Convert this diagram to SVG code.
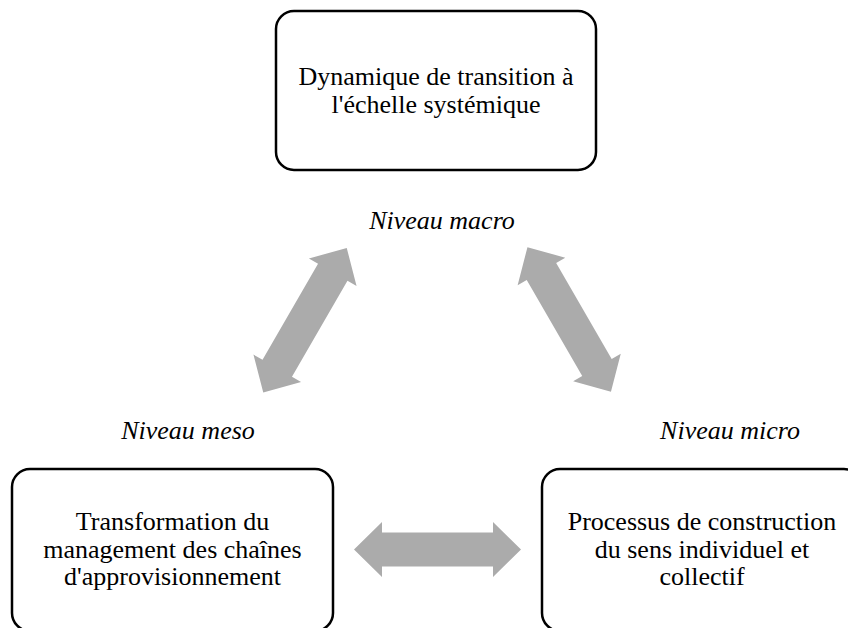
<svg xmlns="http://www.w3.org/2000/svg" width="848" height="628" viewBox="0 0 848 628">
  <style>
    .box { fill: #ffffff; stroke: #000000; stroke-width: 2.5; }
    .t { font-size: 26px; fill: #000000; text-anchor: middle; }
    .lvl { font-size: 26px; font-style: italic; fill: #000000; text-anchor: middle; }
    .arrow { fill: #ababab; stroke: none; }
  </style>
  <defs>
    <path id="dbl" d="M -83.5 0 L -55.5 -27.5 L -55.5 -17 L 55.5 -17 L 55.5 -27.5 L 83.5 0 L 55.5 27.5 L 55.5 17 L -55.5 17 L -55.5 27.5 Z"/>
  </defs>
  <rect width="848" height="628" fill="#ffffff"/>

  <g id="connectors">
    <use href="#dbl" class="arrow" transform="translate(305,320.3) rotate(-60)"/>
    <use href="#dbl" class="arrow" transform="translate(569.2,319.5) rotate(60)"/>
    <use href="#dbl" class="arrow" transform="translate(437.5,549.5)"/>
  </g>

  <g font-family="'Liberation Serif', 'Times New Roman', Times, serif">
  <g id="node-macro">
    <rect class="box" x="276" y="11" width="320" height="159" rx="18" ry="18"/>
    <text class="t" x="436" y="85">Dynamique de transition à</text>
    <text class="t" x="436" y="113">l'échelle systémique</text>
  </g>

  <g id="node-meso">
    <rect class="box" x="12" y="469" width="321" height="162" rx="18" ry="18"/>
    <text class="t" x="172.5" y="530">Transformation du</text>
    <text class="t" x="172.5" y="558">management des chaînes</text>
    <text class="t" x="172.5" y="585">d'approvisionnement</text>
  </g>

  <g id="node-micro">
    <rect class="box" x="542" y="469" width="320" height="162" rx="18" ry="18"/>
    <text class="t" x="702" y="530">Processus de construction</text>
    <text class="t" x="702" y="558">du sens individuel et</text>
    <text class="t" x="702" y="585">collectif</text>
  </g>

  <g id="labels">
    <text class="lvl" x="442" y="229">Niveau macro</text>
    <text class="lvl" x="188" y="439">Niveau meso</text>
    <text class="lvl" x="730" y="439">Niveau micro</text>
  </g>
  </g>
</svg>
